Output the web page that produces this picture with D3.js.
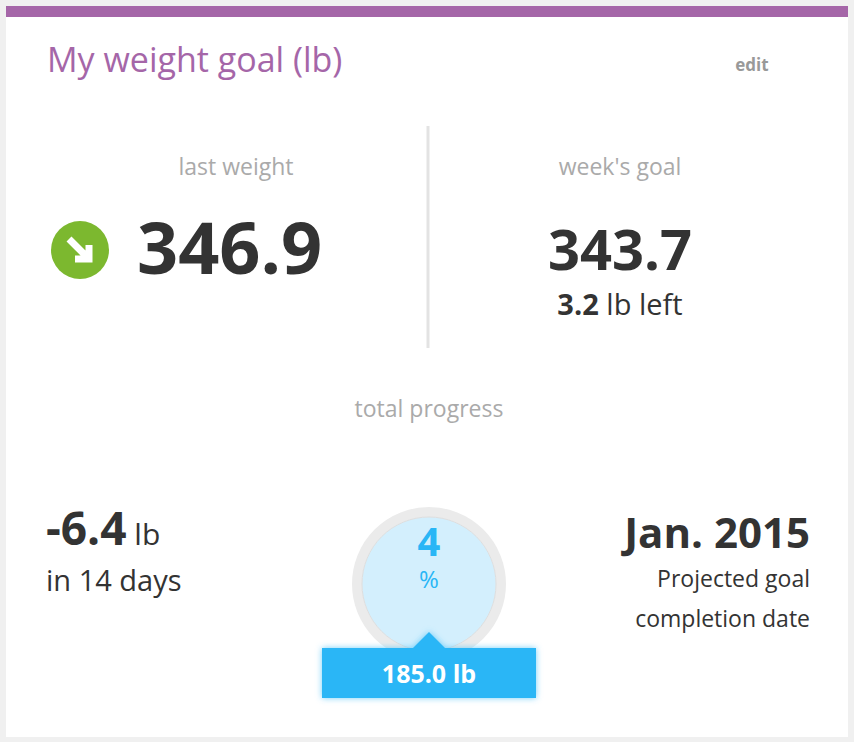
<!DOCTYPE html>
<html><head><meta charset="utf-8">
<script src="https://cdn.jsdelivr.net/npm/d3@7"></script>
<style>body{margin:0;background:#f0f0f0;font-family:"Open Sans",sans-serif}</style>
</head><body><div id="chart"></div>
<script>
const stats = [
  { label: "last weight", value: "346.9" },
  { label: "week's goal", value: "343.7", left: 3.2 }
];
const progress = [0.04];
const targetWeight = [185.0];
const change = [-6.4], days = [14];
const projected = ["Jan. 2015"];

const width = 854, height = 742;
const svg = d3.select("#chart").append("svg").attr("width", width).attr("height", height);
const defs = svg.append("defs");
const glow = defs.append("filter").attr("id", "glow").attr("x", "-20%").attr("y", "-50%").attr("width", "140%").attr("height", "200%");
glow.append("feFlood").attr("flood-color", "#4fc3f7").attr("flood-opacity", 0.8).attr("result", "c");
glow.append("feComposite").attr("in", "c").attr("in2", "SourceAlpha").attr("operator", "in").attr("result", "s");
glow.append("feGaussianBlur").attr("in", "s").attr("stdDeviation", 3).attr("result", "b");
const fm = glow.append("feMerge");
fm.append("feMergeNode").attr("in", "b"); fm.append("feMergeNode").attr("in", "SourceGraphic");

// card
svg.append("rect").attr("x", 6).attr("y", 6).attr("width", 842).attr("height", 731).attr("fill", "#fff");
svg.append("rect").attr("x", 6).attr("y", 6).attr("width", 842).attr("height", 11).attr("fill", "#a566a8");
svg.append("text").attr("x", 47).attr("y", 72).attr("font-size", 34).attr("fill", "#a566a8").text("My weight goal (lb)");
svg.append("text").attr("x", 752).attr("y", 71).attr("text-anchor", "middle").attr("font-size", 17).attr("font-weight", 700).attr("fill", "#999").text("edit");

// divider
svg.append("line").attr("x1", 428).attr("x2", 428).attr("y1", 126).attr("y2", 348).attr("stroke", "#e3e3e3").attr("stroke-width", 3);

const gray = "#aaa", dark = "#333";
svg.append("text").attr("x", 236).attr("y", 175).attr("text-anchor", "middle").attr("font-size", 23).attr("fill", gray).text(stats[0].label);
svg.append("text").attr("x", 620).attr("y", 175).attr("text-anchor", "middle").attr("font-size", 23).attr("fill", gray).text(stats[1].label);

// arrow icon
const ic = svg.append("g").attr("transform", "translate(80,250)");
ic.append("circle").attr("r", 29).attr("fill", "#7cb82f");
ic.append("path").attr("d", "M-11,-11 L7,7 M9,-5 L9,9 L-5,9").attr("stroke", "#fff").attr("stroke-width", 7).attr("fill", "none");
svg.append("text").attr("x", 137).attr("y", 274).attr("font-size", 72).attr("font-weight", 700).attr("fill", dark).text(stats[0].value);

svg.append("text").attr("x", 620).attr("y", 270).attr("text-anchor", "middle").attr("font-size", 56).attr("font-weight", 700).attr("fill", dark).text(stats[1].value);
const lt = svg.append("text").attr("x", 620).attr("y", 315).attr("text-anchor", "middle").attr("font-size", 29).attr("fill", dark);
lt.append("tspan").attr("font-weight", 700).text(d3.format(".1f")(stats[1].left));
lt.append("tspan").text(" lb left");

svg.append("text").attr("x", 429).attr("y", 417).attr("text-anchor", "middle").attr("font-size", 23).attr("fill", gray).text("total progress");

// left stat
const ct = svg.append("text").attr("x", 46).attr("y", 545).attr("fill", dark);
ct.append("tspan").attr("font-size", 46).attr("font-weight", 700).text(d3.format(".1f")(change[0]).replace("\u2212", "-"));
ct.append("tspan").attr("font-size", 30).text(" lb");
svg.append("text").attr("x", 46).attr("y", 591).attr("font-size", 29).attr("fill", dark).text(`in ${days[0]} days`);

// right stat
svg.append("text").attr("x", 810).attr("y", 548).attr("text-anchor", "end").attr("font-size", 42).attr("font-weight", 700).attr("fill", dark).text(projected[0]);
svg.append("text").attr("x", 810).attr("y", 587).attr("text-anchor", "end").attr("font-size", 23).attr("fill", dark).text("Projected goal");
svg.append("text").attr("x", 810).attr("y", 627).attr("text-anchor", "end").attr("font-size", 23).attr("fill", dark).text("completion date");

// gauge
const cx = 429, cy = 584;
const g = svg.append("g").attr("transform", `translate(${cx},${cy})`);
g.append("circle").attr("r", 72).attr("fill", "none").attr("stroke", "#ebebeb").attr("stroke-width", 10);
g.append("circle").attr("r", 67).attr("fill", "#d3effd").attr("stroke", "#dedede").attr("stroke-width", 1);
const ang = d3.scaleLinear().domain([0, 1]).range([Math.PI, 3 * Math.PI]);
const arc = d3.arc().innerRadius(67).outerRadius(77).cornerRadius(5);
// mirrored so the progress runs leftwards from the bottom
g.append("path").attr("d", arc({ startAngle: ang(0) - 0.08, endAngle: ang(progress[0]) + 0.05 }))
  .attr("transform", "scale(-1,1)").attr("fill", "#29b6f6");
g.append("text").attr("y", -28).attr("text-anchor", "middle").attr("font-size", 40).attr("font-weight", 700).attr("fill", "#29b6f6").text(Math.round(progress[0] * 100));
g.append("text").attr("y", 4).attr("text-anchor", "middle").attr("font-size", 24).attr("fill", "#29b6f6").text("%");

// tooltip
const tip = svg.append("g").attr("filter", "url(#glow)");
tip.append("path").attr("d", `M${cx - 17},649 L${cx},632 L${cx + 17},649 Z`).attr("fill", "#29b6f6");
tip.append("rect").attr("x", 322).attr("y", 648).attr("width", 214).attr("height", 50).attr("fill", "#29b6f6");
svg.append("text").attr("x", cx).attr("y", 683).attr("text-anchor", "middle").attr("font-size", 25).attr("font-weight", 700).attr("fill", "#fff").text(`${d3.format(".1f")(targetWeight[0])} lb`);
</script></body></html>
